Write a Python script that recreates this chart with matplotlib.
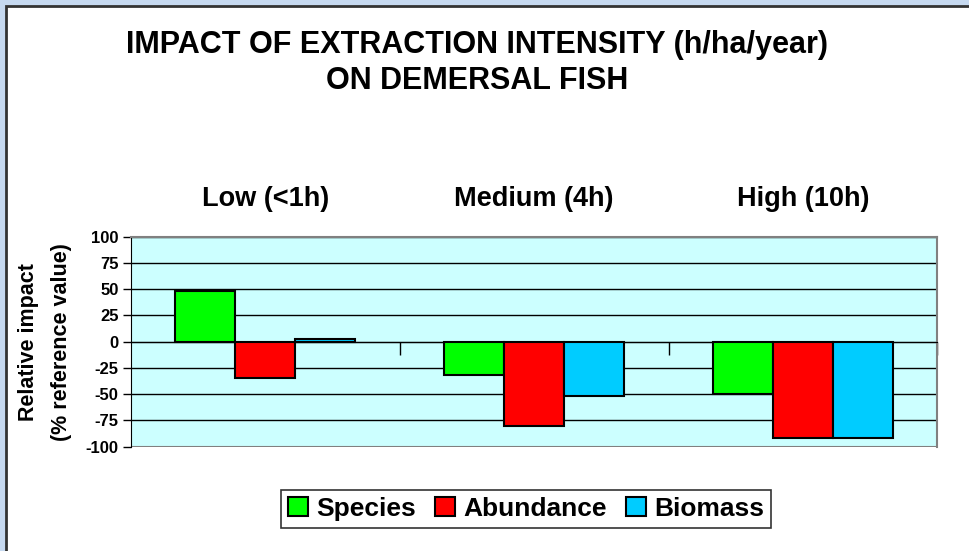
import numpy as np
import matplotlib
matplotlib.use("Agg")
from matplotlib import pyplot as plt
from matplotlib.patches import Rectangle

plt.rcParams['font.family'] = ['Liberation Sans', 'DejaVu Sans']
plt.rcParams['font.weight'] = 'bold'

categories = ['Low (<1h)', 'Medium (4h)', 'High (10h)']
species = [48, -32, -50]
abundance = [-35, -80, -92]
biomass = [3, -52, -92]
series_names = ['Species', 'Abundance', 'Biomass']
series_colors = ['#00FF00', '#FF0000', '#00CCFF']
y_ticks = [-100, -75, -50, -25, 0, 25, 50, 75, 100]

W, H = 969, 551
fig = plt.figure(figsize=(W / 100, H / 100), dpi=100)
fig.patch.set_facecolor('#C6D9F0')

# white chart panel with dark frame
panel = Rectangle((6 / W, -0.1), 1.1, (H - 6) / H + 0.1, transform=fig.transFigure,
                  facecolor='white', edgecolor='#333333', linewidth=2, zorder=-1)
fig.patches.append(panel)

left, right, top, bottom = 131, 937.3, 236.7, 446.7
ax = fig.add_axes([left / W, 1 - bottom / H, (right - left) / W, (bottom - top) / H])
ax.set_zorder(2)
ax.set_facecolor('#CCFFFF')

x = np.arange(len(categories))
width = 0.223
for i, (vals, name, col) in enumerate(zip([species, abundance, biomass], series_names, series_colors)):
    ax.bar(x + (i - 1) * width, vals, width, color=col, edgecolor='black', linewidth=1.5,
           label=name, zorder=3)

ax.set_xlim(-0.5, 2.5)
ax.set_ylim(-100, 100)
ax.set_yticks(y_ticks)
ax.set_yticklabels([str(v) for v in y_ticks], fontsize=12, fontweight='bold')
ax.tick_params(axis='y', length=6, width=1, pad=3)
ax.yaxis.grid(True, color='black', linewidth=1)
ax.set_axisbelow(True)
ax.axhline(-100, color='#808080', linewidth=1.5, zorder=2)

# category axis crosses at zero, ticks between groups
ax.spines['bottom'].set_position(('data', 0))
ax.spines['bottom'].set_color('black')
ax.set_xticks([0.5, 1.5, 2.5])
ax.set_xticklabels([])
ax.tick_params(axis='x', direction='out', length=9, width=1)
for s in ['top', 'right']:
    ax.spines[s].set_color('#808080')
    ax.spines[s].set_linewidth(1.5)
ax.spines['left'].set_color('black')

top_ax = ax.secondary_xaxis('top')
top_ax.set_xticks(x)
top_ax.set_xticklabels(categories, fontsize=19.5, fontweight='bold')
top_ax.tick_params(length=0, pad=18)
top_ax.spines['top'].set_visible(False)

ax.set_ylabel('Relative impact\n(% reference value)', fontsize=15.5, fontweight='bold',
              linespacing=1.75, labelpad=10)

fig.text(477 / W, 1 - 63 / H, 'IMPACT OF EXTRACTION INTENSITY (h/ha/year)\nON DEMERSAL FISH',
         ha='center', va='center', fontsize=22, fontweight='bold', linespacing=1.3)

leg = fig.legend(loc='center', bbox_to_anchor=(526 / W, 1 - 509 / H), ncol=3,
                 prop={'size': 19, 'weight': 'bold'}, frameon=True, fancybox=False,
                 edgecolor='black', handlelength=0.75, handleheight=0.75, handletextpad=0.3,
                 columnspacing=0.75, borderpad=0.25)
leg.get_frame().set_linewidth(1.2)

fig.savefig('out.png', dpi=100, facecolor=fig.get_facecolor())
